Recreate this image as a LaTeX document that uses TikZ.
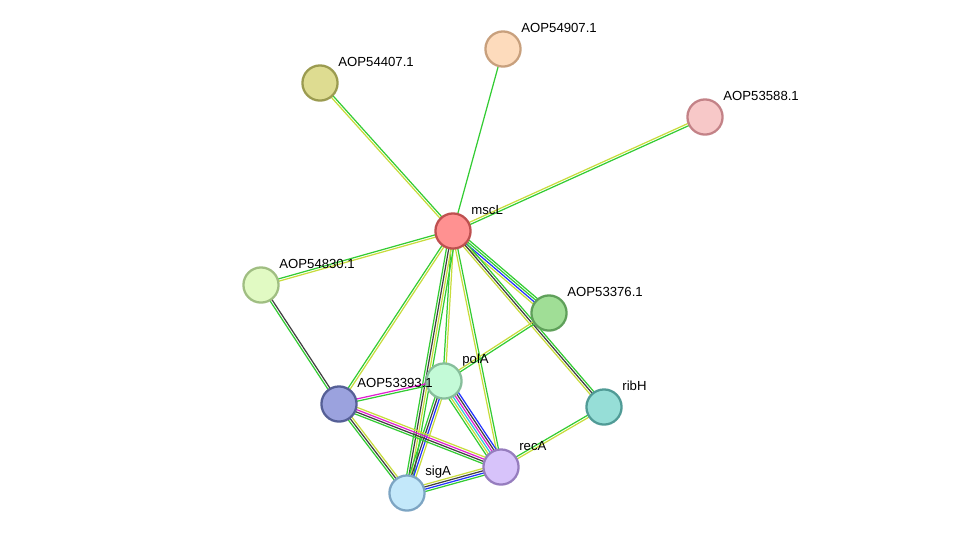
\documentclass[tikz,border=0pt]{standalone}
\usepackage{fontspec}
\setmainfont{Liberation Sans}
\usetikzlibrary{calc}
\definecolor{eGreen}{HTML}{33CC33}
\definecolor{eYellow}{HTML}{C8DC3C}
\definecolor{eBlack}{HTML}{404040}
\definecolor{eBlue}{HTML}{2233FF}
\definecolor{eMagenta}{HTML}{E020D0}
\definecolor{eCyan}{HTML}{30C8D8}
\tikzset{
  prot/.style={circle, minimum size=20pt, inner sep=0pt, line width=1.3pt},
  plabel/.style={anchor=west, inner sep=0pt, font=\fontsize{7.5}{8}\selectfont},
  link/.style={line width=0.7pt}
}
% edge: nodes, list of colours drawn as parallel lines
\newcommand{\protedge}[3]{%
  \foreach \c [count=\i] in {#3} {\xdef\nlines{\i}}%
  \foreach \c [count=\i] in {#3} {%
    \pgfmathsetmacro{\off}{(\i-(\nlines+1)/2)*1.3}%
    \draw [link, \c] ($(#1)!\off pt!90:(#2)$) -- ($(#2)!\off pt!-90:(#1)$);%
  }%
}
\begin{document}
\begin{tikzpicture}[x=0.02cm, y=-0.02cm]
  \useasboundingbox (0,0) rectangle (976,539);
  % proteins
  \coordinate (mscL) at (453,231);
  \coordinate (p54907) at (503,49);
  \coordinate (p54407) at (320,83);
  \coordinate (p53588) at (705,117);
  \coordinate (p54830) at (261,285);
  \coordinate (p53376) at (549,313);
  \coordinate (polA) at (444,381);
  \coordinate (p53393) at (339,404);
  \coordinate (ribH) at (604,407);
  \coordinate (recA) at (501,467);
  \coordinate (sigA) at (407,493);

  % edges
  \protedge{mscL}{p54907}{eGreen}
  \protedge{mscL}{p54407}{eGreen,eYellow}
  \protedge{mscL}{p53588}{eGreen,eYellow}
  \protedge{mscL}{p54830}{eGreen,eYellow}
  \protedge{mscL}{p53376}{eYellow,eBlue,eGreen,eGreen}
  \protedge{mscL}{ribH}{eYellow,eBlack,eGreen}
  \protedge{mscL}{polA}{eGreen,eYellow}
  \protedge{mscL}{recA}{eYellow,eGreen}
  \protedge{mscL}{sigA}{eGreen,eBlack,eYellow,eGreen}
  \protedge{mscL}{p53393}{eGreen,eYellow}
  \protedge{p54830}{p53393}{eGreen,eBlack}
  \protedge{p53376}{polA}{eYellow,eGreen}
  \protedge{ribH}{recA}{eGreen,eYellow}
  \protedge{polA}{p53393}{eMagenta,eGreen}
  \protedge{polA}{recA}{eGreen,eYellow,eCyan,eMagenta,eBlack,eBlue}
  \protedge{polA}{sigA}{eGreen,eBlack,eBlue,eYellow}
  \protedge{p53393}{recA}{eGreen,eBlack,eMagenta,eYellow}
  \protedge{p53393}{sigA}{eGreen,eBlack,eYellow}
  \protedge{sigA}{recA}{eGreen,eBlue,eBlack,eYellow}

  % nodes
  \node [prot, fill={rgb,255:red,255;green,145;blue,145}, draw={rgb,255:red,190;green,80;blue,80}] (mscLn) at (mscL) {};
  \node [prot, fill={rgb,255:red,253;green,219;blue,188}, draw={rgb,255:red,200;green,160;blue,125}] (p54907n) at (p54907) {};
  \node [prot, fill={rgb,255:red,222;green,220;blue,145}, draw={rgb,255:red,155;green,155;blue,80}] (p54407n) at (p54407) {};
  \node [prot, fill={rgb,255:red,247;green,200;blue,200}, draw={rgb,255:red,195;green,130;blue,135}] (p53588n) at (p53588) {};
  \node [prot, fill={rgb,255:red,225;green,250;blue,195}, draw={rgb,255:red,160;green,190;blue,130}] (p54830n) at (p54830) {};
  \node [prot, fill={rgb,255:red,160;green,222;blue,150}, draw={rgb,255:red,95;green,160;blue,90}] (p53376n) at (p53376) {};
  \node [prot, fill={rgb,255:red,195;green,250;blue,215}, draw={rgb,255:red,135;green,190;blue,155}] (polAn) at (polA) {};
  \node [prot, fill={rgb,255:red,155;green,162;blue,222}, draw={rgb,255:red,85;green,95;blue,150}] (p53393n) at (p53393) {};
  \node [prot, fill={rgb,255:red,150;green,222;blue,215}, draw={rgb,255:red,80;green,155;blue,150}] (ribHn) at (ribH) {};
  \node [prot, fill={rgb,255:red,215;green,195;blue,250}, draw={rgb,255:red,150;green,125;blue,190}] (recAn) at (recA) {};
  \node [prot, fill={rgb,255:red,195;green,232;blue,250}, draw={rgb,255:red,125;green,165;blue,195}] (sigAn) at (sigA) {};

  % labels
  \foreach \n/\t in {mscL/mscL, p54907/AOP54907.1, p54407/AOP54407.1, p53588/AOP53588.1,
      p54830/AOP54830.1, p53376/AOP53376.1, polA/polA, p53393/AOP53393.1,
      ribH/ribH, recA/recA, sigA/sigA}
    \node [plabel] (\n-l) at ($(\n)+(18,-21)$) {\t};
\end{tikzpicture}
\end{document}
